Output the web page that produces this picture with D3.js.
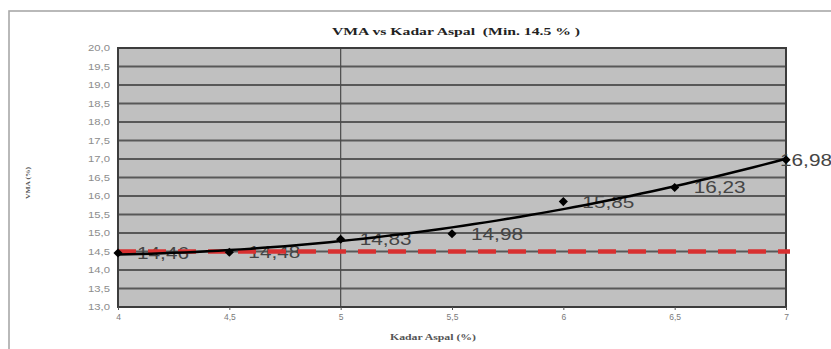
<!DOCTYPE html>
<html>
<head>
<meta charset="utf-8">
<script src="https://cdn.jsdelivr.net/npm/d3@7"></script>
<style>
  html, body { margin: 0; padding: 0; background: #fff; }
  svg { display: block; }
  text { white-space: pre; }
</style>
</head>
<body>
<svg id="chart" width="831" height="349"></svg>
<script>
// ---- data ----
const kadarAspal = [4, 4.5, 5, 5.5, 6, 6.5, 7];
const vmaValues = [14.46, 14.48, 14.83, 14.98, 15.85, 16.23, 16.98];
const vmaLabels = ["14,46", "14,48", "14,83", "14,98", "15,85", "16,23", "16,98"];
const minVMA = 14.5;
const xTickValues = [4, 4.5, 5, 5.5, 6, 6.5, 7];
const xTickLabels = ["4", "4,5", "5", "5,5", "6", "6,5", "7"];
const yTickValues = [13, 13.5, 14, 14.5, 15, 15.5, 16, 16.5, 17, 17.5, 18, 18.5, 19, 19.5, 20];
const yTickLabels = ["13,0", "13,5", "14,0", "14,5", "15,0", "15,5", "16,0", "16,5", "17,0", "17,5", "18,0", "18,5", "19,0", "19,5", "20,0"];
const titleText = "VMA vs Kadar Aspal  (Min. 14.5 % )";
const xTitle = "Kadar Aspal (%)";
const yTitle = "VMA (%)";

// ---- layout ----
const svg = d3.select("#chart");
const L = 118, R = 786, T = 48, B = 307;
const x = d3.scaleLinear().domain([4, 7]).range([L, R]);
const y = d3.scaleLinear().domain([13, 20]).range([B, T]);

// outer chart border
svg.append("rect").attr("x", 9).attr("y", 11).attr("width", 840).attr("height", 360)
  .attr("fill", "#fff").attr("stroke", "#a8a8a8").attr("stroke-width", 1.6);

// plot area
svg.append("rect").attr("x", L).attr("y", T).attr("width", R - L).attr("height", B - T)
  .attr("fill", "#c0c0c0");

// horizontal gridlines
svg.append("g").selectAll("line").data(yTickValues.filter(v => v > 13 && v < 20)).join("line")
  .attr("x1", L).attr("x2", R).attr("y1", d => y(d)).attr("y2", d => y(d))
  .attr("stroke", "#585858").attr("stroke-width", 1.8);

// vertical line at 5
svg.append("line").attr("x1", x(5)).attr("x2", x(5)).attr("y1", T).attr("y2", B)
  .attr("stroke", "#4a4a4a").attr("stroke-width", 1.2);

// plot border
svg.append("rect").attr("x", L).attr("y", T).attr("width", R - L).attr("height", B - T)
  .attr("fill", "none").attr("stroke", "#3c3c3c").attr("stroke-width", 2);

// y axis
const yAxis = d3.axisLeft(y).tickValues(yTickValues)
  .tickFormat((d, i) => yTickLabels[i]).tickSize(0).tickPadding(8);
const gy = svg.append("g").attr("transform", `translate(${L},0)`).call(yAxis);
gy.select(".domain").remove();
gy.selectAll("text").attr("font-family", "Liberation Sans, Arial, sans-serif")
  .attr("font-size", 9).attr("fill", "#8c8c8c")
  .attr("textLength", 22).attr("lengthAdjust", "spacingAndGlyphs");

// x axis
const xAxis = d3.axisBottom(x).tickValues(xTickValues)
  .tickFormat((d, i) => xTickLabels[i]).tickSize(3).tickPadding(4);
const gx = svg.append("g").attr("transform", `translate(0,${B})`).call(xAxis);
gx.select(".domain").remove();
gx.selectAll("line").attr("stroke", "#555");
gx.selectAll("text").attr("font-family", "Liberation Sans, Arial, sans-serif")
  .attr("font-size", 8.5).attr("fill", "#7a7a7a");

// titles
svg.append("text").attr("x", 456).attr("y", 35).attr("text-anchor", "middle")
  .attr("font-family", "Liberation Serif, Times New Roman, serif").attr("font-weight", "bold")
  .attr("font-size", 11).attr("fill", "#222")
  .attr("textLength", 248).attr("lengthAdjust", "spacingAndGlyphs").text(titleText);
svg.append("text").attr("x", 433).attr("y", 340).attr("text-anchor", "middle")
  .attr("font-family", "Liberation Serif, Times New Roman, serif").attr("font-weight", "bold")
  .attr("font-size", 8).attr("fill", "#555")
  .attr("textLength", 86).attr("lengthAdjust", "spacingAndGlyphs").text(xTitle);
svg.append("text").attr("transform", "translate(30,183) rotate(-90)").attr("text-anchor", "middle")
  .attr("font-family", "Liberation Serif, Times New Roman, serif").attr("font-weight", "bold")
  .attr("font-size", 7).attr("fill", "#555")
  .attr("textLength", 32).attr("lengthAdjust", "spacingAndGlyphs").text(yTitle);

// data labels (drawn beneath lines)
const labW = 52;
svg.append("g").selectAll("text").data(kadarAspal).join("text")
  .attr("x", d => Math.min(x(d) + 19, 832 - labW))
  .attr("y", (d, i) => y(vmaValues[i]) + 6)
  .attr("font-family", "Liberation Sans, Arial, sans-serif")
  .attr("font-size", 16).attr("fill", "#454545")
  .attr("textLength", labW).attr("lengthAdjust", "spacingAndGlyphs")
  .text((d, i) => vmaLabels[i]);

// min line
svg.append("line").attr("x1", L).attr("x2", R + 4).attr("y1", y(minVMA)).attr("y2", y(minVMA))
  .attr("stroke", "#d83030").attr("stroke-width", 4.5).attr("stroke-dasharray", "18,12");

// polynomial (order 2) trendline: least squares fit of data
function polyFit(xs, ys) {
  const n = xs.length;
  let s = [0, 0, 0, 0, 0], t = [0, 0, 0];
  for (let i = 0; i < n; i++) {
    for (let k = 0; k < 5; k++) s[k] += Math.pow(xs[i], k);
    for (let k = 0; k < 3; k++) t[k] += ys[i] * Math.pow(xs[i], k);
  }
  const M = [[s[0], s[1], s[2], t[0]], [s[1], s[2], s[3], t[1]], [s[2], s[3], s[4], t[2]]];
  for (let c = 0; c < 3; c++) {
    for (let r = c + 1; r < 3; r++) {
      const f = M[r][c] / M[c][c];
      for (let k = c; k < 4; k++) M[r][k] -= f * M[c][k];
    }
  }
  const a = [0, 0, 0];
  for (let r = 2; r >= 0; r--) {
    let v = M[r][3];
    for (let k = r + 1; k < 3; k++) v -= M[r][k] * a[k];
    a[r] = v / M[r][r];
  }
  return xv => a[0] + a[1] * xv + a[2] * xv * xv;
}
const fit = polyFit(kadarAspal, vmaValues);
const trendX = d3.range(0, 61).map(i => 4 + i * 0.05);
svg.append("path").datum(trendX)
  .attr("d", d3.line().x(d => x(d)).y(d => y(fit(d))))
  .attr("fill", "none").attr("stroke", "#000").attr("stroke-width", 2.5);

// markers
svg.append("g").selectAll("path").data(kadarAspal).join("path")
  .attr("d", d3.symbol().type(d3.symbolSquare).size(42))
  .attr("transform", (d, i) => `translate(${x(d)},${y(vmaValues[i])}) rotate(45)`)
  .attr("fill", "#000");
</script>
</body>
</html>
